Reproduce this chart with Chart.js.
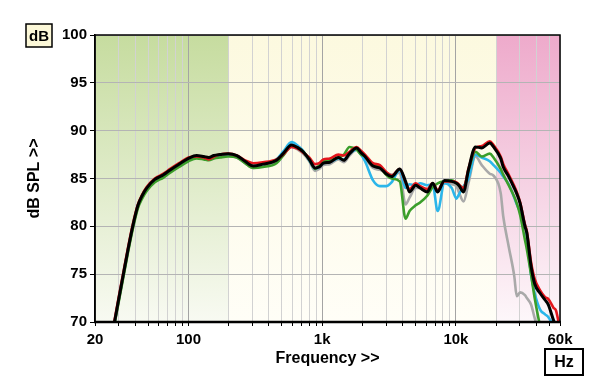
<!DOCTYPE html>
<html><head><meta charset="utf-8">
<script src="https://cdn.jsdelivr.net/npm/chart.js@4.4.1/dist/chart.umd.min.js"></script>
<style>html,body{margin:0;padding:0;background:#fff}#wrap{width:600px;height:389px}</style>
</head><body><div id="wrap"><canvas id="c" width="600" height="389"></canvas></div>
<script>
// ---- data ----
const FREQ = [26,28,30,32.6,35,38.3,41.9,45,48.7,56,65,73,85,100,115,130,142,155,172,198,230,265,305,360,455,510,590,660,720,800,885,950,1020,1140,1320,1450,1600,1810,1950,2090,2400,2700,3000,3300,3800,4200,4500,5000,5400,6100,6700,7300,8200,9300,10100,10500,11400,12400,14000,15600,17900,19100,21600,22600,24800,27300,28500,30200,32800,33900,36500,38800,42600,46400,49100,53600,56000,58000,60000];

const GREY = [67.3,69.8,72.1,74.8,77.1,79.8,82.0,83.0,83.8,84.7,85.2,85.7,86.3,86.9,87.2,87.1,87.0,87.2,87.3,87.4,87.2,86.6,86.1,86.3,86.7,87.4,88.3,88.0,87.6,86.8,85.8,86.0,86.4,86.5,87.0,86.7,87.4,88.0,87.5,87.1,86.1,85.9,85.6,85.4,85.6,82.3,83.0,84.0,84.0,83.7,84.2,83.8,84.5,84.4,84.2,83.6,82.6,84.5,87.3,86.4,85.5,85.3,83.5,81.0,77.9,74.8,72.7,73.1,72.8,72.5,71.8,70.4,68.5,67,66,65,65,65,65];

const CYAN = [67.5,70,72.3,75,77.3,80,82.2,83.2,84.0,84.9,85.4,85.9,86.5,87.1,87.3,87.2,87.1,87.3,87.4,87.5,87.3,86.7,86.3,86.5,87.0,87.8,88.8,88.4,87.9,86.9,86.0,86.2,86.6,86.7,87.1,87.0,87.6,88.0,87.5,86.8,84.8,84.2,84.2,84.6,85.9,84.0,84.4,84.3,84.5,84.3,84.4,81.6,84.5,84.0,82.9,83.3,84.2,85.0,87.5,87.2,86.8,86.4,85.6,85.2,84.4,83.0,82.3,81.5,80.2,79.0,74.9,73.0,71.3,70.8,70.5,69.6,69,68.5,68];

const GREEN = [67.3,69.8,72.0,74.7,77.0,79.7,81.9,82.9,83.7,84.6,85.1,85.6,86.2,86.8,87.1,87.0,86.9,87.1,87.2,87.3,87.2,86.6,86.1,86.2,86.6,87.4,88.4,88.2,87.8,87.0,86.0,86.4,86.8,86.9,87.2,87.5,88.3,88.0,87.5,87.3,86.4,86.2,85.4,85.0,84.7,80.8,81.6,82.2,82.5,83.2,84.1,84.5,84.7,84.8,84.5,84.3,84.0,85.8,87.8,87.3,87.6,87.2,86.0,85.4,84.3,83.1,82.4,81.2,78.6,77.6,74.9,72.5,69.6,68,67,66,65.5,65,65];

const RED = [67.7,70.2,72.5,75.2,77.5,80.2,82.3,83.3,84.1,85.0,85.5,86.0,86.6,87.2,87.3,87.2,87.0,87.3,87.5,87.6,87.4,86.9,86.6,86.7,87.0,87.5,88.3,88.1,87.7,87.2,86.5,86.6,87.0,87.1,87.5,87.4,87.8,88.3,87.9,87.5,86.6,86.4,85.7,85.3,86.0,84.6,83.9,84.5,84.2,83.9,84.5,83.8,84.7,84.7,84.6,84.4,84.0,86.0,88.2,88.4,88.9,88.5,87.3,86.5,85.4,84.2,83.6,82.5,80.2,79.5,76.2,74.5,73.3,72.6,72.4,71.5,71.2,70.3,69.5];

const BLACK = [67.5,70,72.3,75,77.3,80,82.2,83.2,84.0,84.9,85.4,85.9,86.5,87.1,87.4,87.3,87.2,87.4,87.5,87.6,87.4,86.8,86.3,86.5,86.9,87.6,88.5,88.2,87.8,87.0,86.1,86.2,86.6,86.7,87.2,86.9,87.6,88.2,87.7,87.3,86.3,86.1,85.5,85.2,86.0,84.7,83.6,84.3,84.0,83.6,84.5,83.6,84.8,84.7,84.5,84.3,83.6,85.9,88.3,88.2,88.7,88.3,87.1,86.2,85.2,84.0,83.4,82.4,80.0,79.3,75.8,74.0,73.0,72.3,71.8,70.2,69.5,69.0,68.5];

const X_GRID = [20,30,40,50,60,70,80,90,100,200,300,400,500,600,700,800,900,1000,2000,3000,4000,5000,6000,7000,8000,9000,10000,20000,30000,40000,50000,60000];
const X_LABELS = {20:'20',100:'100',1000:'1k',10000:'10k',60000:'60k'};
const X_MAJOR = [100,1000,10000];
const Y_MIN = 70, Y_MAX = 100, Y_STEP = 5;
const BAND_LOW_END = 200, BAND_HIGH_START = 20000;

// ---- plugins ----
const bgPlugin = {
  id: 'bg',
  beforeDraw(chart) {
    const {ctx, chartArea: a, scales: {x}} = chart;
    const xl = x.getPixelForValue(BAND_LOW_END), xh = x.getPixelForValue(BAND_HIGH_START);
    ctx.save();
    let g = ctx.createLinearGradient(0, a.top, 0, a.bottom);
    g.addColorStop(0, '#fcf9df'); g.addColorStop(1, '#fffef7');
    ctx.fillStyle = g; ctx.fillRect(a.left, a.top, a.right - a.left, a.bottom - a.top);
    g = ctx.createLinearGradient(0, a.top, 0, a.bottom);
    g.addColorStop(0, '#c6dc9f'); g.addColorStop(1, '#f8faf2');
    ctx.fillStyle = g; ctx.fillRect(a.left, a.top, xl - a.left, a.bottom - a.top);
    g = ctx.createLinearGradient(0, a.top, 0, a.bottom);
    g.addColorStop(0, '#eeaacb'); g.addColorStop(1, '#fdf7fa');
    ctx.fillStyle = g; ctx.fillRect(xh, a.top, a.right - xh, a.bottom - a.top);
    ctx.restore();
  }
};
function box(ctx, text, x, y, w, h, fill, lw, font) {
  ctx.save();
  ctx.fillStyle = fill; ctx.fillRect(x, y, w, h);
  ctx.strokeStyle = '#000'; ctx.lineWidth = lw; ctx.strokeRect(x, y, w, h);
  ctx.fillStyle = '#000'; ctx.font = font; ctx.textAlign = 'center'; ctx.textBaseline = 'middle';
  ctx.fillText(text, x + w / 2, y + h / 2 + 1);
  ctx.restore();
}
const framePlugin = {
  id: 'frame',
  afterDraw(chart) {
    const {ctx, chartArea: a} = chart;
    ctx.save();
    ctx.strokeStyle = '#000'; ctx.lineWidth = 1.5;
    ctx.strokeRect(a.left, a.top, a.right - a.left, a.bottom - a.top);
    ctx.lineWidth = 2.5;
    ctx.beginPath(); ctx.moveTo(a.left - 1, a.bottom); ctx.lineTo(a.right + 1, a.bottom); ctx.stroke();
    ctx.restore();
    box(ctx, 'dB', 26, 24, 26, 23, '#fcf8d8', 1.5, 'bold 15px "Liberation Sans", Arial, sans-serif');
    box(ctx, 'Hz', 545, 349, 38, 26, '#ffffff', 2, 'bold 16px "Liberation Sans", Arial, sans-serif');
  }
};

const mk = (label, data, color, w) => ({label, data: data.map((v, i) => ({x: FREQ[i], y: v})), borderColor: color, borderWidth: w, pointRadius: 0, fill: false, cubicInterpolationMode: 'monotone'});
const FONT = '"Liberation Sans", Arial, sans-serif';

new Chart(document.getElementById('c'), {
  type: 'line',
  data: {
    datasets: [
      mk('black', BLACK, '#000000', 3),
      mk('red', RED, '#e3161c', 2.6),
      mk('green', GREEN, '#3b9e2a', 2.6),
      mk('cyan', CYAN, '#2bb6ea', 2.6),
      mk('grey', GREY, '#a9a9a9', 2.6)
    ]
  },
  options: {
    responsive: false, animation: false, devicePixelRatio: 1,
    layout: {padding: {top: 35, right: 40, left: 0, bottom: 0}},
    plugins: {legend: {display: false}, tooltip: {enabled: false}},
    scales: {
      x: {
        type: 'logarithmic', min: 20, max: 60000,
        afterBuildTicks(s) { s.ticks = X_GRID.map(v => ({value: v})); },
        afterFit(s) { s.height = 67; },
        ticks: {
          autoSkip: false, maxRotation: 0, minRotation: 0, padding: 5, color: '#000',
          font: {family: FONT, weight: 'bold', size: 15},
          callback: (v) => X_LABELS[v] || ''
        },
        grid: {
          color: (c) => (c.tick && X_MAJOR.includes(c.tick.value)) ? '#a4a4a4' : '#d2d2d2',
          lineWidth: 1, tickLength: 4, tickColor: '#000', tickWidth: 1
        },
        border: {display: true, color: '#000', width: 2},
        title: {display: true, text: 'Frequency >>', color: '#000', font: {family: FONT, weight: 'bold', size: 16}, padding: {top: 0, bottom: 21}}
      },
      y: {
        min: Y_MIN, max: Y_MAX,
        afterFit(s) { s.width = 95; },
        ticks: {stepSize: Y_STEP, padding: 3, color: '#000', font: {family: FONT, weight: 'bold', size: 15}},
        grid: {color: '#b4b4b4', lineWidth: 1, tickLength: 5, tickColor: '#000', tickWidth: 1},
        border: {display: true, color: '#000', width: 1.5},
        title: {display: true, text: 'dB SPL >>', color: '#000', font: {family: FONT, weight: 'bold', size: 16}, padding: {top: 25, bottom: 0}}
      }
    }
  },
  plugins: [bgPlugin, framePlugin]
});
</script></body></html>
